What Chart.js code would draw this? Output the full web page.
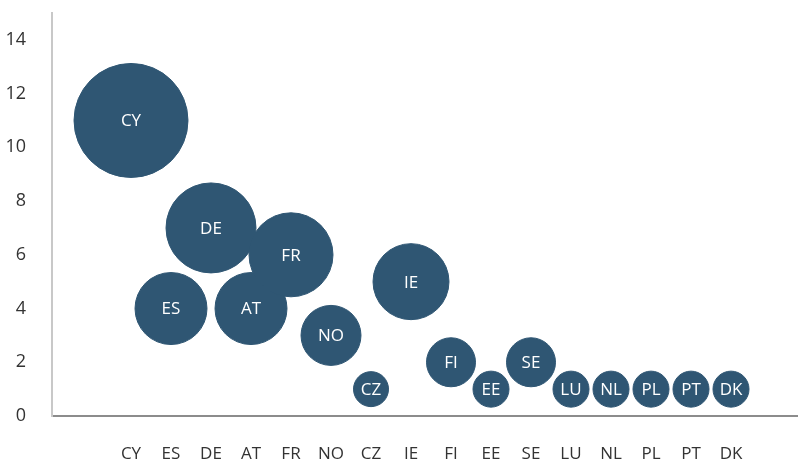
<!DOCTYPE html>
<html>
<head>
<meta charset="utf-8">
<script src="https://cdn.jsdelivr.net/npm/chart.js@4/dist/chart.umd.min.js"></script>
<style>
  html, body { margin: 0; padding: 0; background: #fff; overflow: hidden; }
  canvas { display: block; }
</style>
</head>
<body>
<canvas id="chart" width="799" height="459"></canvas>
<script>
// countries along the x axis
const countries = ['CY', 'ES', 'DE', 'AT', 'FR', 'NO', 'CZ', 'IE', 'FI', 'EE', 'SE', 'LU', 'NL', 'PL', 'PT', 'DK'];
// y value of each bubble
const values = [11, 4, 7, 4, 6, 3, 1, 5, 2, 1, 2, 1, 1, 1, 1, 1];
// bubble size (radius in px)
const bubbleSize = [57, 36, 45, 36, 42, 30, 17.5, 38, 24.5, 18, 24.5, 18, 18, 18, 18, 18];
const yTicks = [0, 2, 4, 6, 8, 10, 12, 14];

const points = countries.map((c, i) => ({ x: i, y: values[i], r: bubbleSize[i] }));

// white country codes inside bubbles
const bubbleLabels = {
    id: 'bubbleLabels',
    afterDatasetsDraw(chart) {
        const ctx = chart.ctx;
        const meta = chart.getDatasetMeta(0);
        ctx.save();
        ctx.fillStyle = '#ffffff';
        ctx.font = '17px "Open Sans"';
        ctx.textAlign = 'center';
        ctx.textBaseline = 'middle';
        meta.data.forEach((el, i) => {
            ctx.fillText(countries[i], el.x, el.y + 1);
        });
        ctx.restore();
    }
};

new Chart(document.getElementById('chart').getContext('2d'), {
    type: 'bubble',
    data: {
        datasets: [{
            data: points,
            backgroundColor: '#2f5673',
            borderColor: '#2f5673',
            borderWidth: 1,
            clip: false
        }]
    },
    options: {
        responsive: false,
        animation: false,
        events: [],
        devicePixelRatio: 1,
        layout: { autoPadding: false, padding: { top: 13, right: 2, left: 0, bottom: 0 } },
        plugins: { legend: { display: false }, tooltip: { enabled: false } },
        scales: {
            x: {
                type: 'linear',
                min: -1.975,
                max: 16.65,
                grid: { display: false },
                border: { display: true, color: '#8c8c8c', width: 2 },
                afterBuildTicks: (scale) => {
                    scale.ticks = countries.map((c, i) => ({ value: i }));
                },
                afterFit: (scale) => {
                    scale.height = 43;
                    scale.paddingLeft = 0;
                    scale.paddingRight = 0;
                },
                ticks: {
                    autoSkip: false,
                    maxRotation: 0,
                    padding: 20,
                    color: '#333333',
                    font: { family: '"Open Sans"', size: 17 },
                    callback: (v) => countries[v] ?? ''
                }
            },
            y: {
                min: 0,
                max: 15,
                grid: { display: false },
                border: { display: true, color: '#c8c8c8', width: 2 },
                afterBuildTicks: (scale) => {
                    scale.ticks = yTicks.map(v => ({ value: v }));
                },
                afterFit: (scale) => {
                    scale.width = 52;
                    scale.paddingTop = 0;
                    scale.paddingBottom = 0;
                },
                ticks: {
                    padding: 18,
                    color: '#333333',
                    font: { family: '"Open Sans"', size: 18 }
                }
            }
        }
    },
    plugins: [bubbleLabels]
});
</script>
</body>
</html>
